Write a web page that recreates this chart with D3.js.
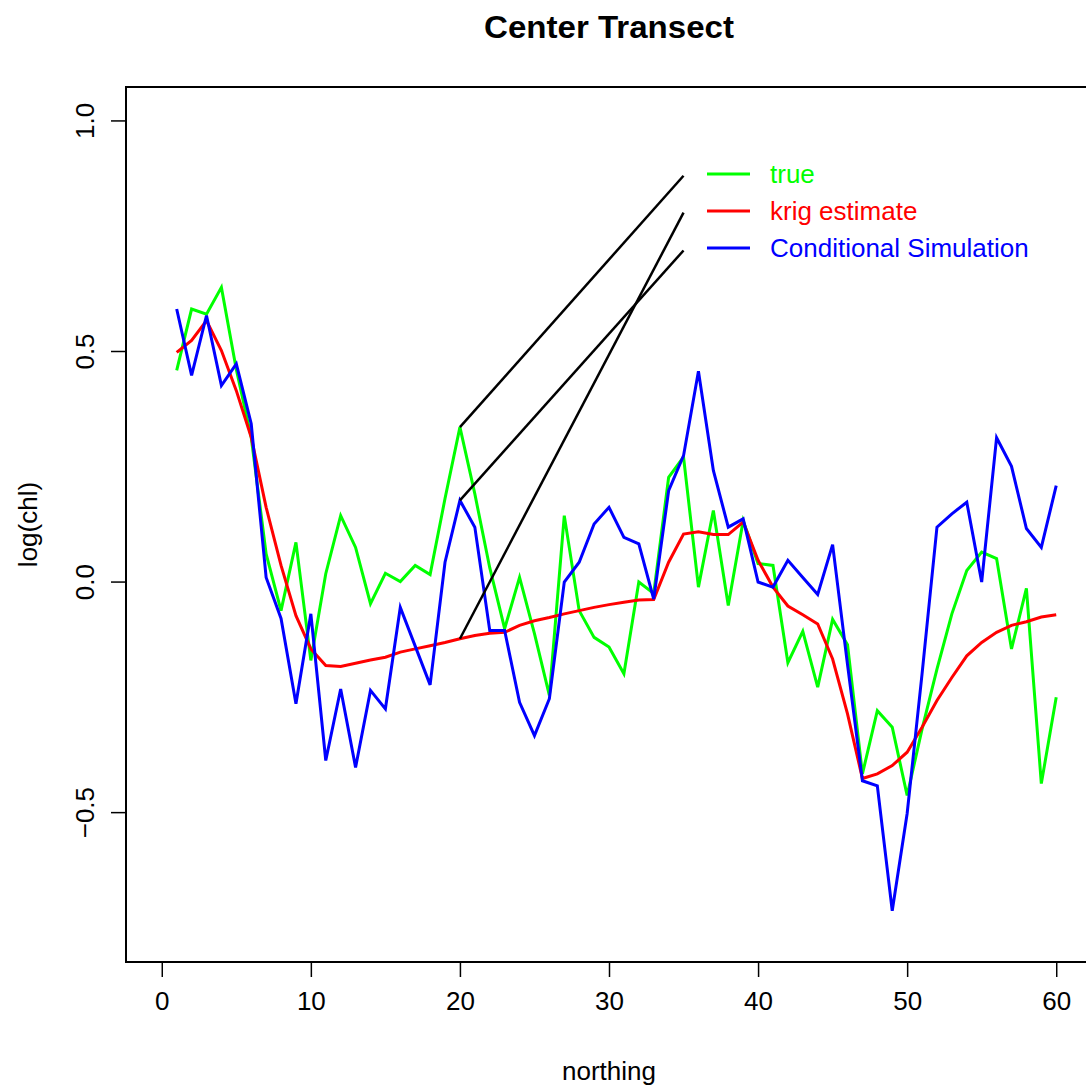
<!DOCTYPE html>
<html>
<head>
<meta charset="utf-8">
<script src="https://cdn.jsdelivr.net/npm/d3@7"></script>
<style>
  html, body { margin: 0; padding: 0; background: #ffffff; }
  svg { display: block; }
  text { font-family: "Liberation Sans", Arial, sans-serif; }
</style>
</head>
<body>
<svg id="chart" width="1086" height="1085"></svg>
<script>
// ---------- data ----------
const northing = d3.range(1, 61);
const trueVals = [0.458, 0.591, 0.58, 0.638, 0.46, 0.313, 0.06, -0.063, 0.085, -0.171,
  0.017, 0.143, 0.074, -0.048, 0.018, 0.0, 0.035, 0.015, 0.18, 0.335,
  0.19, 0.03, -0.102, 0.009, -0.113, -0.247, 0.143, -0.063, -0.121, -0.142,
  -0.2, -0.001, -0.026, 0.226, 0.27, -0.012, 0.154, -0.052, 0.132, 0.039,
  0.035, -0.176, -0.108, -0.229, -0.082, -0.137, -0.417, -0.28, -0.316, -0.464,
  -0.32, -0.19, -0.07, 0.024, 0.064, 0.05, -0.146, -0.015, -0.438, -0.251];
const krigVals = [0.497, 0.523, 0.566, 0.501, 0.414, 0.313, 0.161, 0.035, -0.074, -0.146,
  -0.182, -0.184, -0.177, -0.17, -0.164, -0.153, -0.146, -0.139, -0.132, -0.124,
  -0.117, -0.112, -0.11, -0.095, -0.085, -0.078, -0.07, -0.063, -0.056, -0.05,
  -0.045, -0.04, -0.039, 0.042, 0.103, 0.108, 0.102, 0.102, 0.129, 0.046,
  -0.012, -0.053, -0.072, -0.092, -0.168, -0.287, -0.427, -0.417, -0.399, -0.37,
  -0.316, -0.258, -0.208, -0.161, -0.132, -0.11, -0.095, -0.087, -0.077, -0.072];
const condVals = [0.591, 0.447, 0.577, 0.425, 0.472, 0.342, 0.009, -0.08, -0.265, -0.07,
  -0.388, -0.233, -0.403, -0.236, -0.276, -0.056, -0.14, -0.224, 0.042, 0.176,
  0.118, -0.106, -0.106, -0.262, -0.334, -0.254, -0.001, 0.042, 0.125, 0.161,
  0.096, 0.082, -0.038, 0.197, 0.273, 0.456, 0.241, 0.118, 0.136, -0.001,
  -0.012, 0.046, 0.009, -0.028, 0.08, -0.18, -0.432, -0.443, -0.714, -0.503,
  -0.2, 0.118, 0.147, 0.172, -0.001, 0.312, 0.25, 0.115, 0.074, 0.208];
// black segments from northing 20 to 35
const segX = [20, 35];
const segStart = [0.335, 0.176, -0.124];
const segEnd = [0.88, 0.718, 0.80];
const xTicks = [0, 10, 20, 30, 40, 50, 60];
const yTicks = [-0.5, 0.0, 0.5, 1.0];
const legendLabels = ["true", "krig estimate", "Conditional Simulation"];
const seriesColors = ["#00ff00", "#ff0000", "#0000ff"];

// ---------- layout ----------
const svg = d3.select("#chart");
const plotL = 126, plotR = 1092, plotT = 87, plotB = 962;
const x = d3.scaleLinear().domain([-2.4, 62.4]).range([plotL, plotR]);
const y = d3.scaleLinear().domain([-0.825, 1.0725]).range([plotB, plotT]);

svg.append("rect").attr("width", 1086).attr("height", 1085).attr("fill", "#ffffff");

// plot box
svg.append("rect")
  .attr("x", plotL).attr("y", plotT)
  .attr("width", plotR - plotL).attr("height", plotB - plotT)
  .attr("fill", "none").attr("stroke", "#000").attr("stroke-width", 2);

// x axis
const xAxis = d3.axisBottom(x).tickValues(xTicks).tickSize(15).tickPadding(12)
  .tickFormat(d3.format("d"));
const gx = svg.append("g").attr("transform", `translate(0,${plotB})`).call(xAxis);
gx.select(".domain").remove();
gx.selectAll(".tick line").attr("stroke", "#000").attr("stroke-width", 1.5);
gx.selectAll(".tick text").attr("font-size", 26).attr("fill", "#000")
  .attr("font-family", "Liberation Sans, Arial, sans-serif")
  .attr("dy", "0.71em").attr("y", 30);

// y axis
const yAxis = d3.axisLeft(y).tickValues(yTicks).tickSize(15)
  .tickFormat(d3.format(".1f"));
const gy = svg.append("g").attr("transform", `translate(${plotL},0)`).call(yAxis);
gy.select(".domain").remove();
gy.selectAll(".tick line").attr("stroke", "#000").attr("stroke-width", 1.5);
gy.selectAll(".tick text")
  .attr("font-size", 26).attr("fill", "#000")
  .attr("font-family", "Liberation Sans, Arial, sans-serif")
  .attr("x", null).attr("dy", null)
  .attr("text-anchor", "middle")
  .attr("transform", "translate(-32,0) rotate(-90)")
  .text(d => d3.format(".1f")(d).replace("-", "-"));

// titles
svg.append("text").attr("x", (plotL + plotR) / 2).attr("y", 38)
  .attr("text-anchor", "middle").attr("font-size", 31).attr("font-weight", "bold")
  .attr("textLength", 250).attr("lengthAdjust", "spacingAndGlyphs")
  .text("Center Transect");
svg.append("text").attr("x", (plotL + plotR) / 2).attr("y", 1080)
  .attr("text-anchor", "middle").attr("font-size", 26).text("northing");
svg.append("text")
  .attr("transform", `translate(37,${(plotT + plotB) / 2}) rotate(-90)`)
  .attr("text-anchor", "middle").attr("font-size", 26).text("log(chl)");

// clip
svg.append("clipPath").attr("id", "plotclip").append("rect")
  .attr("x", plotL).attr("y", plotT).attr("width", plotR - plotL).attr("height", plotB - plotT);
const plot = svg.append("g").attr("clip-path", "url(#plotclip)");

const line = d3.line().x((d, i) => x(northing[i])).y(d => y(d));
[trueVals, krigVals, condVals].forEach((vals, k) => {
  plot.append("path").datum(vals)
    .attr("d", line)
    .attr("fill", "none").attr("stroke", seriesColors[k])
    .attr("stroke-width", 3).attr("stroke-linejoin", "miter");
});

// black segments
segStart.forEach((s, i) => {
  plot.append("line")
    .attr("x1", x(segX[0])).attr("y1", y(s))
    .attr("x2", x(segX[1])).attr("y2", y(segEnd[i]))
    .attr("stroke", "#000").attr("stroke-width", 2.5);
});

// legend
const legend = svg.append("g");
legendLabels.forEach((lab, i) => {
  const ly = 174 + i * 37;
  legend.append("line").attr("x1", 707).attr("x2", 750).attr("y1", ly).attr("y2", ly)
    .attr("stroke", seriesColors[i]).attr("stroke-width", 3);
  legend.append("text").attr("x", 770).attr("y", ly).attr("dy", "0.35em")
    .attr("font-size", 26).attr("fill", seriesColors[i]).text(lab);
});
</script>
</body>
</html>
